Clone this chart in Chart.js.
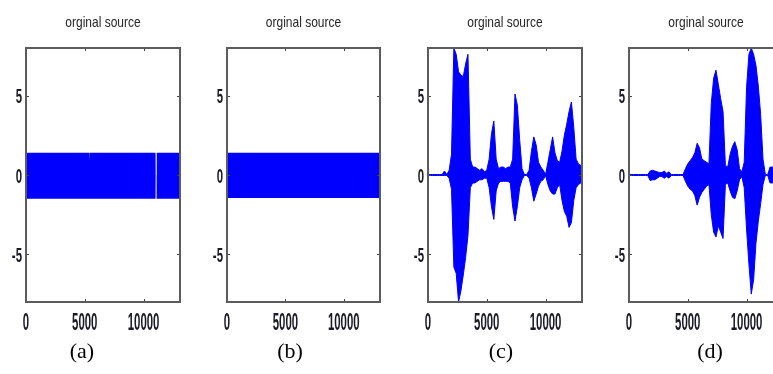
<!DOCTYPE html>
<html>
<head>
<meta charset="utf-8">
<script src="https://cdn.jsdelivr.net/npm/chart.js@4.4.1/dist/chart.umd.min.js"></script>
<style>
  html, body { margin: 0; padding: 0; background: #fff; }
  body { width: 773px; height: 374px; overflow: hidden; position: relative; }
  canvas { position: absolute; top: 0; }
  .cap { position: absolute; top: 340px; width: 60px; margin-left: -30px; text-align: center;
         font: 22px/1 "Liberation Serif", "DejaVu Serif", serif; color: #000; }
</style>
</head>
<body>
<canvas id="chartA" width="200" height="374" style="left:0px"></canvas>
<canvas id="chartB" width="200" height="374" style="left:200px"></canvas>
<canvas id="chartC" width="200" height="374" style="left:400px"></canvas>
<canvas id="chartD" width="200" height="374" style="left:600px"></canvas>
<div class="cap" style="left:82px">(a)</div>
<div class="cap" style="left:290px">(b)</div>
<div class="cap" style="left:501px">(c)</div>
<div class="cap" style="left:710px">(d)</div>
<script>
const titleText = 'orginal source';
const xTicks = [0, 5000, 10000];
const yTicks = [-5, 0, 5];

// (a) tonal source, envelope with two small gaps
const aSamples = [0, 5370, 5390, 5410, 11020, 11030, 11110, 11120, 13200];
const aUpper = [1.4, 1.4, 0.9, 1.4, 1.4, 0, 0, 1.4, 1.4];
const aLower = [-1.5, -1.5, -1.5, -1.5, -1.5, 0, 0, -1.5, -1.5];

// (b) constant band
const bSamples = [0, 13200];
const bUpper = [1.4, 1.4];
const bLower = [-1.45, -1.45];

// (c) and (d) speech envelopes, read every 200 samples
const samples = [0, 200, 400, 600, 800, 1000, 1200, 1400, 1600, 1800,
  2000, 2200, 2400, 2600, 2800, 3000, 3200, 3400, 3600, 3800,
  4000, 4200, 4400, 4600, 4800, 5000, 5200, 5400, 5600, 5800,
  6000, 6200, 6400, 6600, 6800, 7000, 7200, 7400, 7600, 7800,
  8000, 8200, 8400, 8600, 8800, 9000, 9200, 9400, 9600, 9800,
  10000, 10200, 10400, 10600, 10800, 11000, 11200, 11400, 11600, 11800,
  12000, 12200, 12400, 12600, 12800, 13000, 13200];

const cUpper = [0.03, 0.03, 0.03, 0.03, 0.03, 0.03, 0.03, 0.25, 0.03, 0.3,
  1.3, 8, 7.6, 6.5, 6.3, 6.2, 7.0, 7.6, 1.0, 0.5,
  0.5, 0.4, 0.3, 0.4, 0.2, 0.3, 1.0, 2.6, 3.4, 1.0,
  0.4, 0.5, 0.5, 0.4, 0.5, 0.5, 1.0, 5.1, 4.4, 2.2,
  0.4, 0.03, 0.03, 0.3, 1.5, 2.4, 1.9, 0.8, 0.5, 0.3,
  0.03, 0.8, 1.6, 2.4, 1.4, 0.9, 0.8, 1.5, 2.5, 3.2,
  4.0, 4.6, 3.0, 1.0, 0.7, 0.6, 0.5];
const cLower = [-0.03, -0.03, -0.03, -0.03, -0.03, -0.03, -0.03, -0.03, -0.03, -0.2,
  -0.9, -5.8, -6.2, -8, -7.3, -6.3, -5.2, -3.8, -0.8, -0.5,
  -0.5, -0.4, -0.3, -0.3, -0.2, -0.2, -0.8, -2.0, -2.8, -1.0,
  -0.5, -0.4, -0.4, -0.4, -0.4, -0.5, -2.0, -2.9, -2.0, -0.8,
  -0.3, -0.03, -0.03, -0.2, -0.8, -1.65, -1.2, -0.7, -0.4, -0.3,
  -0.03, -0.6, -1.0, -1.2, -1.2, -0.8, -0.6, -1.6, -2.3, -2.6,
  -3.3, -3.0, -1.6, -0.8, -0.6, -0.5, -0.4];

const dUpper = [0.03, 0.03, 0.03, 0.03, 0.03, 0.03, 0.03, 0.03, 0.03, 0.25,
  0.3, 0.25, 0.2, 0.15, 0.15, 0.25, 0.1, 0.2, 0.03, 0.03,
  0.03, 0.03, 0.03, 0.03, 0.4, 0.7, 0.9, 1.1, 1.4, 2.0,
  1.7, 1.0, 0.9, 0.8, 0.7, 4.5, 6.1, 6.6, 5.7, 4.8,
  4.0, 0.6, 0.5, 1.3, 1.8, 2.1, 1.6, 0.4, 0.2, 0.8,
  5.5, 7.6, 8.0, 7.6, 6.9, 5.6, 3.8, 1.0, 0.03, 0.03,
  0.5, 0.5, 0.4, 0.3, 0.3, 0.3, 0.3];
const dLower = [-0.03, -0.03, -0.03, -0.03, -0.03, -0.03, -0.03, -0.03, -0.03, -0.35,
  -0.3, -0.3, -0.2, -0.1, -0.1, -0.2, -0.1, -0.2, -0.03, -0.03,
  -0.03, -0.03, -0.03, -0.03, -0.4, -0.7, -0.9, -1.0, -1.3, -1.9,
  -1.4, -1.1, -0.9, -0.7, -0.6, -2.5, -3.6, -3.9, -3.2, -3.6,
  -4.0, -0.6, -0.5, -1.0, -1.4, -1.5, -1.0, -0.3, -0.1, -0.8,
  -3.4, -5.6, -7.5, -6.6, -4.3, -2.9, -1.8, -0.6, -0.03, -0.03,
  -0.5, -0.5, -0.4, -0.3, -0.3, -0.3, -0.3];

// draws the matlab style box, inner ticks, stretched tick labels and title
const panelDecor = {
  id: 'panelDecor',
  afterDraw(chart) {
    const ctx = chart.ctx;
    const area = chart.chartArea;
    const xs = chart.scales.x, ys = chart.scales.y;
    ctx.save();

    ctx.strokeStyle = '#444';
    ctx.lineWidth = 1;
    ctx.beginPath();
    xTicks.forEach(v => {
      const px = Math.round(xs.getPixelForValue(v)) + 0.5;
      ctx.moveTo(px, area.top); ctx.lineTo(px, area.top + 3);
      ctx.moveTo(px, area.bottom); ctx.lineTo(px, area.bottom - 3);
    });
    yTicks.forEach(v => {
      const py = Math.round(ys.getPixelForValue(v)) + 0.5;
      ctx.moveTo(area.left, py); ctx.lineTo(area.left + 3, py);
      ctx.moveTo(area.right, py); ctx.lineTo(area.right - 3, py);
    });
    ctx.stroke();

    ctx.strokeStyle = '#5c5c5c';
    ctx.lineWidth = 2;
    ctx.strokeRect(area.left, area.top, area.right - area.left, area.bottom - area.top);

    ctx.fillStyle = '#1a1a26';
    ctx.font = 'bold 12px "Liberation Sans", Arial, sans-serif';
    ctx.textBaseline = 'alphabetic';
    ctx.textAlign = 'center';
    xTicks.forEach(v => {
      ctx.save();
      ctx.translate(xs.getPixelForValue(v), area.bottom + 28);
      ctx.scale(0.95, 1.95);
      ctx.fillText(String(v), 0, 0);
      ctx.restore();
    });
    ctx.textAlign = 'right';
    yTicks.forEach(v => {
      ctx.save();
      ctx.translate(area.left - 4, ys.getPixelForValue(v) + 7.5);
      ctx.scale(0.95, 1.75);
      ctx.fillText(String(v), 0, 0);
      ctx.restore();
    });

    ctx.fillStyle = '#262626';
    ctx.font = '12px "Liberation Sans", Arial, sans-serif';
    ctx.textAlign = 'center';
    ctx.save();
    ctx.translate((area.left + area.right) / 2, 27);
    ctx.scale(1, 1.2);
    ctx.fillText(titleText, 0, 0);
    ctx.restore();

    ctx.restore();
  }
};

function makePanel(id, xsArr, upper, lower, padLeft, padRight, lineW) {
  const blue = '#0000ff';
  new Chart(document.getElementById(id), {
    type: 'line',
    data: {
      datasets: [{
        data: xsArr.map((s, i) => ({ x: s, y: upper[i] })),
        borderColor: blue,
        backgroundColor: blue,
        borderWidth: lineW,
        pointRadius: 0,
        tension: 0,
        fill: '+1'
      }, {
        data: xsArr.map((s, i) => ({ x: s, y: lower[i] })),
        borderColor: blue,
        backgroundColor: blue,
        borderWidth: lineW,
        pointRadius: 0,
        tension: 0,
        fill: false
      }]
    },
    options: {
      responsive: false,
      animation: false,
      devicePixelRatio: 1,
      layout: { padding: { left: padLeft, right: padRight, top: 48, bottom: 72 } },
      plugins: { legend: { display: false }, tooltip: { enabled: false }, title: { display: false } },
      scales: {
        x: { type: 'linear', min: 0, max: 13100, display: false },
        y: { type: 'linear', min: -8, max: 8, display: false }
      }
    },
    plugins: [panelDecor]
  });
}

makePanel('chartA', aSamples, aUpper, aLower, 26, 20, 0);
makePanel('chartB', bSamples, bUpper, bLower, 27, 20, 0);
makePanel('chartC', samples, cUpper, cLower, 28, 18, 1);
makePanel('chartD', samples, dUpper, dLower, 29, 17, 1);
</script>
</body>
</html>
